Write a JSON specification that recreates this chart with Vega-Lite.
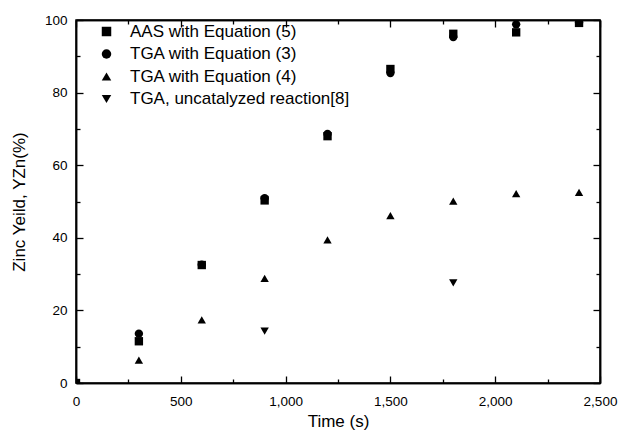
{
  "$schema": "https://vega.github.io/schema/vega-lite/v6.json",
  "width": 524,
  "height": 363,
  "autosize": {"type": "none"},
  "padding": {"left": 76, "top": 20, "right": 20, "bottom": 52},
  "background": "white",
  "config": {
    "view": {"stroke": "black", "strokeWidth": 1.5},
    "font": "Liberation Sans",
    "axis": {"domainColor": "black", "domainWidth": 1.5, "tickColor": "black", "tickWidth": 1.3, "grid": false, "labelColor": "black", "titleColor": "black", "labelFont": "Liberation Sans", "titleFont": "Liberation Sans", "titleFontWeight": "normal", "labelFontSize": 13.5, "titleFontSize": 17}
  },
  "data": {"values": [
    {"t": 0, "y": 0, "s": "AAS with Equation (5)"},
    {"t": 300, "y": 11.5, "s": "AAS with Equation (5)"},
    {"t": 600, "y": 32.5, "s": "AAS with Equation (5)"},
    {"t": 900, "y": 50.3, "s": "AAS with Equation (5)"},
    {"t": 1200, "y": 68, "s": "AAS with Equation (5)"},
    {"t": 1500, "y": 86.5, "s": "AAS with Equation (5)"},
    {"t": 1800, "y": 96.2, "s": "AAS with Equation (5)"},
    {"t": 2100, "y": 96.6, "s": "AAS with Equation (5)"},
    {"t": 2400, "y": 99.2, "s": "AAS with Equation (5)"},
    {"t": 0, "y": 0, "s": "TGA with Equation (3)"},
    {"t": 300, "y": 13.6, "s": "TGA with Equation (3)"},
    {"t": 600, "y": 32.6, "s": "TGA with Equation (3)"},
    {"t": 900, "y": 50.9, "s": "TGA with Equation (3)"},
    {"t": 1200, "y": 68.6, "s": "TGA with Equation (3)"},
    {"t": 1500, "y": 85.4, "s": "TGA with Equation (3)"},
    {"t": 1800, "y": 95.3, "s": "TGA with Equation (3)"},
    {"t": 2100, "y": 98.8, "s": "TGA with Equation (3)"},
    {"t": 2400, "y": 99.3, "s": "TGA with Equation (3)"},
    {"t": 300, "y": 6.3, "s": "TGA with Equation (4)"},
    {"t": 600, "y": 17.4, "s": "TGA with Equation (4)"},
    {"t": 900, "y": 28.8, "s": "TGA with Equation (4)"},
    {"t": 1200, "y": 39.4, "s": "TGA with Equation (4)"},
    {"t": 1500, "y": 46.1, "s": "TGA with Equation (4)"},
    {"t": 1800, "y": 50.1, "s": "TGA with Equation (4)"},
    {"t": 2100, "y": 52.2, "s": "TGA with Equation (4)"},
    {"t": 2400, "y": 52.5, "s": "TGA with Equation (4)"},
    {"t": 900, "y": 14.3, "s": "TGA, uncatalyzed reaction[8]"},
    {"t": 1800, "y": 27.6, "s": "TGA, uncatalyzed reaction[8]"}
  ]},
  "layer": [
    {
      "mark": {"type": "point", "filled": true, "opacity": 1, "clip": true, "size": 70, "color": "black"},
      "encoding": {
        "x": {"field": "t", "type": "quantitative", "title": "Time (s)",
          "scale": {"domain": [0, 2500], "nice": false},
          "axis": {"values": [0, 500, 1000, 1500, 2000, 2500], "format": ",d",
            "tickSize": -7, "labelPadding": 18, "titleY": 30, "labelFlush": false}},
        "y": {"field": "y", "type": "quantitative", "title": "Zinc Yeild, YZn(%)",
          "scale": {"domain": [0, 100], "nice": false},
          "axis": {"values": [0, 20, 40, 60, 80, 100], "format": "d",
            "tickSize": -7, "labelPadding": 16, "titleX": -48, "labelFlush": false}},
        "shape": {"field": "s", "type": "nominal",
          "scale": {"domain": ["AAS with Equation (5)", "TGA with Equation (3)", "TGA with Equation (4)", "TGA, uncatalyzed reaction[8]"],
            "range": ["square", "circle", "triangle-up", "triangle-down"]},
          "legend": {"title": null, "orient": "none", "legendX": 22, "legendY": 3, "padding": 0,
            "labelFontSize": 17, "labelLimit": 0, "labelColor": "black", "symbolFillColor": "black", "symbolStrokeColor": "black",
            "symbolSize": 90, "labelOffset": 15, "rowPadding": 4.5}}
      }
    },
    {
      "mark": {"type": "point", "opacity": 0},
      "encoding": {
        "x": {"field": "t", "type": "quantitative",
          "axis": {"orient": "top", "title": null, "labelExpr": "''",
            "values": [0, 500, 1000, 1500, 2000, 2500], "tickSize": -7}},
        "y": {"field": "y", "type": "quantitative",
          "axis": {"orient": "right", "title": null, "labelExpr": "''",
            "values": [0, 20, 40, 60, 80, 100], "tickSize": -7}}
      }
    },
    {
      "mark": {"type": "point", "opacity": 0},
      "encoding": {
        "x": {"field": "t", "type": "quantitative",
          "axis": {"orient": "bottom", "title": null, "labelExpr": "''",
            "values": [250, 750, 1250, 1750, 2250], "tickSize": -4}},
        "y": {"field": "y", "type": "quantitative",
          "axis": {"orient": "left", "title": null, "labelExpr": "''",
            "values": [10, 30, 50, 70, 90], "tickSize": -4}}
      }
    },
    {
      "mark": {"type": "point", "opacity": 0},
      "encoding": {
        "x": {"field": "t", "type": "quantitative",
          "axis": {"orient": "top", "title": null, "labelExpr": "''",
            "values": [250, 750, 1250, 1750, 2250], "tickSize": -4}},
        "y": {"field": "y", "type": "quantitative",
          "axis": {"orient": "right", "title": null, "labelExpr": "''",
            "values": [10, 30, 50, 70, 90], "tickSize": -4}}
      }
    }
  ],
  "resolve": {"axis": {"x": "independent", "y": "independent"}}
}
